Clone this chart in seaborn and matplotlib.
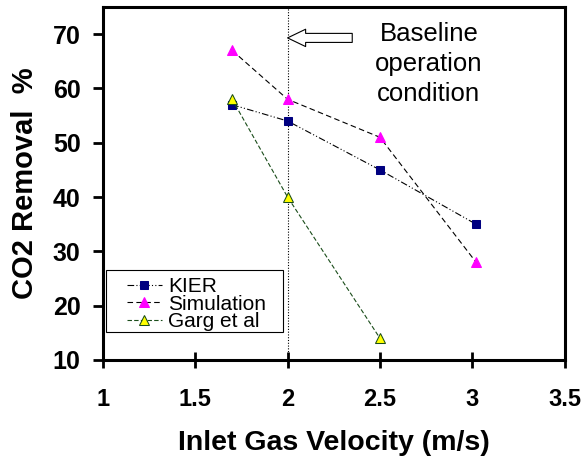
import pandas as pd
import numpy as np
import seaborn as sns
import matplotlib.pyplot as plt
from matplotlib.patches import Rectangle

# data
kier_x = [1.7, 2.0, 2.5, 3.02]
kier_y = [57, 54, 45, 35]
sim_x = [1.7, 2.0, 2.5, 3.02]
sim_y = [67, 58, 51, 28]
garg_x = [1.7, 2.0, 2.5]
garg_y = [58, 40, 14]

sns.set_style("ticks")
plt.rcParams['font.family'] = ['Liberation Sans', 'DejaVu Sans']
plt.rcParams.update({'text.color': 'black', 'axes.labelcolor': 'black',
                     'xtick.color': 'black', 'ytick.color': 'black',
                     'axes.edgecolor': 'black'})

fig, ax = plt.subplots(figsize=(5.84, 4.63), dpi=100)
fig.subplots_adjust(left=0.176, right=0.967, top=0.985, bottom=0.2225)

sns.lineplot(x=kier_x, y=kier_y, ax=ax, color='black', lw=0.8, marker='s',
             markersize=6, markerfacecolor='#000080', markeredgecolor='#000080',
             label='KIER')
ax.lines[-1].set_dashes([6, 2, 1, 2, 1, 2])
sns.lineplot(x=sim_x, y=sim_y, ax=ax, color='black', lw=0.8, marker='^',
             markersize=7, markerfacecolor='#ff00ff', markeredgecolor='#ff00ff',
             label='Simulation')
ax.lines[-1].set_dashes([5, 3])
sns.lineplot(x=garg_x, y=garg_y, ax=ax, color='#1a4d1a', lw=0.8, marker='^',
             markersize=7, markerfacecolor='#ffff00', markeredgecolor='#1a4d1a',
             label='Garg et al')
ax.lines[-1].set_dashes([4, 2])

ax.axvline(2.0, color='black', lw=0.8, ls=(0, (1, 1.5)), zorder=0)

ax.annotate('', xy=(2.0, 69.3), xytext=(2.35, 69.3),
            arrowprops=dict(arrowstyle='simple,head_length=1.3,head_width=1.25,tail_width=0.65',
                            fc='white', ec='black', lw=0.8, shrinkA=0, shrinkB=0))
ax.text(2.765, 64.5, 'Baseline\noperation\ncondition', ha='center', va='center',
        fontsize=18.5, linespacing=1.32)

ax.set_xlim(1, 3.5)
ax.set_ylim(10, 75)
ax.set_xticks([1, 1.5, 2, 2.5, 3, 3.5])
ax.set_xticklabels(['1', '1.5', '2', '2.5', '3', '3.5'])
ax.set_yticks([10, 20, 30, 40, 50, 60, 70])
ax.tick_params(axis='x', labelsize=17, width=2, length=11, direction='inout', pad=15)
ax.tick_params(axis='y', labelsize=18, width=2, length=7, direction='out', pad=9)
for lab in ax.get_xticklabels() + ax.get_yticklabels():
    lab.set_fontweight('bold')
for s in ax.spines.values():
    s.set_linewidth(2.2)
    s.set_visible(True)

ax.set_xlabel('Inlet Gas Velocity (m/s)', fontsize=20.5, fontweight='bold', labelpad=13)
ax.set_ylabel('CO2 Removal  %', fontsize=21, fontweight='bold', labelpad=10)

# legend box drawn separately so its padding can match the original
ax.add_patch(Rectangle((0.0065, 0.079), 0.383, 0.176, transform=ax.transAxes,
                       facecolor='white', edgecolor='black', lw=0.8, zorder=4))
leg = ax.legend(loc='upper left', bbox_to_anchor=(0.052, 0.235), fontsize=15,
                frameon=False, handlelength=1.68, handletextpad=0.3, borderpad=0,
                labelspacing=-0.07, borderaxespad=0)
leg.set_zorder(5)

fig.savefig('out.png', dpi=100)
